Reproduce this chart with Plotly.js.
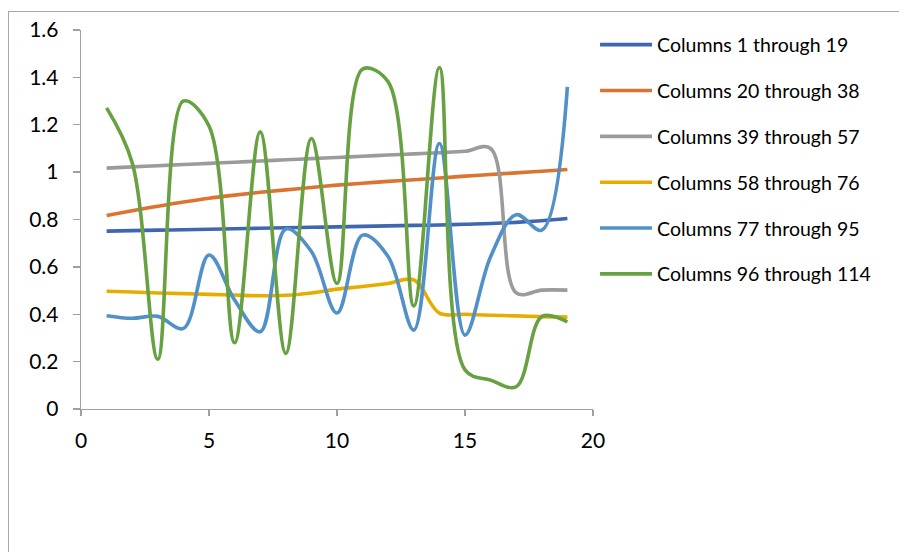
<!DOCTYPE html>
<html>
<head>
<meta charset="utf-8">
<script src="https://cdn.plot.ly/plotly-3.0.1.min.js"></script>
<style>
  html, body { margin: 0; padding: 0; background: #fff; overflow: hidden; }
  #wrap { position: relative; width: 899px; height: 552px; }
  #chart { position: absolute; left: 0; top: 0; width: 899px; height: 552px; }
  #frame { position: absolute; left: 8px; top: 11px; width: 1200px; height: 900px;
           border-left: 1.5px solid #A9A9A9; border-top: 1.5px solid #A9A9A9; pointer-events: none; }
</style>
</head>
<body>
<div id="wrap">
  <div id="chart"></div>
  <div id="frame"></div>
</div>
<script>
const xValues = [1,2,3,4,5,6,7,8,9,10,11,12,13,14,15,16,17,18,19];

const seriesNames = [
  "Columns 1 through 19",
  "Columns 20 through 38",
  "Columns 39 through 57",
  "Columns 58 through 76",
  "Columns 77 through 95",
  "Columns 96 through 114"
];

const cols1to19 = [0.751,0.753,0.755,0.757,0.759,0.761,0.763,0.765,0.767,0.769,0.771,0.773,0.775,0.777,0.780,0.783,0.788,0.795,0.804];
const cols20to38 = [0.817,0.837,0.856,0.874,0.890,0.903,0.915,0.925,0.935,0.945,0.953,0.961,0.968,0.975,0.983,0.990,0.997,1.004,1.011];
const cols39to57 = [1.017,1.022,1.027,1.032,1.037,1.042,1.047,1.052,1.057,1.062,1.067,1.072,1.077,1.082,1.088,1.100,0.490,0.502,0.502];
const cols58to76 = [0.497,0.494,0.490,0.487,0.484,0.481,0.478,0.480,0.490,0.506,0.517,0.530,0.545,0.405,0.400,0.396,0.393,0.390,0.388];
const cols77to95 = [0.394,0.383,0.391,0.340,0.650,0.460,0.326,0.760,0.665,0.405,0.734,0.643,0.333,1.121,0.312,0.643,0.820,0.755,1.360];
const cols96to114 = [1.271,1.040,0.210,1.300,1.195,0.280,1.170,0.235,1.142,0.530,1.435,1.381,0.435,1.442,0.165,0.122,0.094,0.390,0.368];

const seriesValues = [cols1to19, cols20to38, cols39to57, cols58to76, cols77to95, cols96to114];
const seriesColors = ["#3F66B1", "#DD7331", "#9B9B9B", "#E6AD00", "#5290C8", "#67A142"];

const yTickVals = [0, 0.2, 0.4, 0.6, 0.8, 1, 1.2, 1.4, 1.6];
const yTickText = ["0", "0.2", "0.4", "0.6", "0.8", "1", "1.2", "1.4", "1.6"];
const xTickVals = [0, 5, 10, 15, 20];
const xTickText = ["0", "5", "10", "15", "20"];

const FONT = "Lato, Carlito, Calibri, 'Noto Sans', sans-serif";

const traces = seriesValues.map((vals, i) => ({
  type: "scatter",
  mode: "lines",
  x: xValues,
  y: vals,
  name: seriesNames[i],
  legendgroup: "g" + i,
  line: { color: seriesColors[i], width: 3.6, shape: "spline", smoothing: 1 },
  hoverinfo: "skip"
}));

const layout = {
  width: 899,
  height: 552,
  margin: { l: 81, r: 306, t: 30, b: 143 },
  paper_bgcolor: "#ffffff",
  plot_bgcolor: "#ffffff",
  font: { family: FONT, size: 19.5, color: "#000000" },
  showlegend: true,
  legend: {
    x: 1.004, xanchor: "left",
    y: 1.012, yanchor: "top",
    traceorder: "grouped",
    tracegroupgap: 17.5,
    font: { family: FONT, size: 19.5, color: "#000000" },
    itemwidth: 52,
    bgcolor: "rgba(0,0,0,0)"
  },
  xaxis: {
    range: [0, 20],
    tickmode: "array",
    tickvals: xTickVals,
    ticktext: xTickText,
    showgrid: false,
    zeroline: false,
    showline: true,
    linecolor: "#A0A0A0",
    linewidth: 1.3,
    ticks: "outside",
    ticklen: 6,
    tickcolor: "#A0A0A0",
    tickwidth: 1.3,
    tickfont: { family: FONT, size: 21, color: "#000000" },
    ticklabelstandoff: 6,
    fixedrange: true
  },
  yaxis: {
    range: [0, 1.6],
    tickmode: "array",
    tickvals: yTickVals,
    ticktext: yTickText,
    showgrid: false,
    zeroline: false,
    showline: true,
    linecolor: "#A0A0A0",
    linewidth: 1.3,
    ticks: "outside",
    ticklen: 7,
    tickcolor: "#A0A0A0",
    tickwidth: 1.3,
    tickfont: { family: FONT, size: 21, color: "#000000" },
    ticklabelstandoff: 10,
    fixedrange: true
  }
};

Plotly.newPlot("chart", traces, layout, { staticPlot: true, displayModeBar: false });
</script>
</body>
</html>
